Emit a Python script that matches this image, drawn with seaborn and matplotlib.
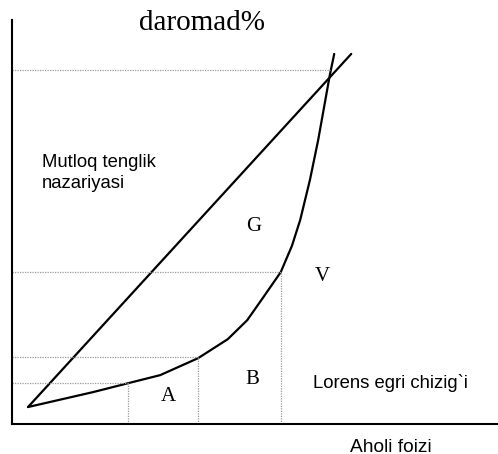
import numpy as np
import pandas as pd
import seaborn as sns
import matplotlib
matplotlib.use("Agg")
import matplotlib.pyplot as plt

# Lorenz curve points (population %, income %)
lorenz_x = [3.3, 16.7, 23.9, 30.5, 38.3, 44.4, 48.4, 51.9, 55.3, 57.6,
            59.3, 61.3, 63.0, 65.4, 66.3]
lorenz_y = [4.2, 7.9, 10.1, 12.1, 16.3, 21.0, 25.7, 31.7, 37.6, 44.1,
            50.5, 60.4, 70.3, 86.4, 91.6]

# line of absolute equality
equal_x = [3.3, 69.8]
equal_y = [4.2, 91.6]

# dotted guide levels (x on curve, y on curve)
guide_x = [23.9, 38.3, 55.3, 65.4]
guide_y = [10.1, 16.5, 37.6, 87.6]
guide_vertical = [True, True, True, False]

area_labels = ["A", "B", "G", "V"]
area_x = [32.1, 49.4, 49.8, 63.8]
area_y = [6.7, 10.9, 48.8, 36.4]

title = "daromad%"
xlabel = "Aholi foizi"
equal_label = "Mutloq tenglik\nnazariyasi"
curve_label = "Lorens egri chizig`i"

sns.set_style("white")
plt.rcParams["font.family"] = ["Liberation Sans", "DejaVu Sans"]
plt.rcParams["text.color"] = "black"

fig = plt.figure(figsize=(4.98, 4.54), dpi=100)
ax = fig.add_axes([12 / 498, 30 / 454, 486 / 498, 404 / 454])

curve = pd.DataFrame({"x": lorenz_x, "y": lorenz_y})
diag = pd.DataFrame({"x": equal_x, "y": equal_y})
sns.lineplot(data=curve, x="x", y="y", ax=ax, color="black", lw=1.6, sort=False)
sns.lineplot(data=diag, x="x", y="y", ax=ax, color="black", lw=1.6, sort=False)

for gx, gy, vert in zip(guide_x, guide_y, guide_vertical):
    ax.plot([0, gx], [gy, gy], color="#999999", lw=0.9, ls=(0, (1, 1)))
    if vert:
        ax.plot([gx, gx], [0, gy], color="#999999", lw=0.9, ls=(0, (1, 1)))

for lab, lx, ly in zip(area_labels, area_x, area_y):
    ax.text(lx, ly, lab, fontsize=15, family="Liberation Serif",
            ha="center", va="center", color="black")

ax.text(39.1, 99.3, title, fontsize=21, family="Liberation Serif",
        ha="center", va="center", clip_on=False, color="black")
ax.text(6.2, 62.2, equal_label, fontsize=13.3, ha="left", va="center",
        linespacing=1.3, color="black")
ax.text(61.9, 10.1, curve_label, fontsize=13.3, ha="left", va="center",
        color="black")
ax.text(78.0, -5.7, xlabel, fontsize=13.8, ha="center", va="center",
        clip_on=False, color="black")

ax.set_xlim(0, 100)
ax.set_ylim(0, 100)
ax.set_xticks([])
ax.set_yticks([])
ax.set_xlabel("")
ax.set_ylabel("")
for side in ["top", "right"]:
    ax.spines[side].set_visible(False)
for side in ["left", "bottom"]:
    ax.spines[side].set_color("black")
    ax.spines[side].set_linewidth(1.5)

fig.savefig("out.png", dpi=100)
